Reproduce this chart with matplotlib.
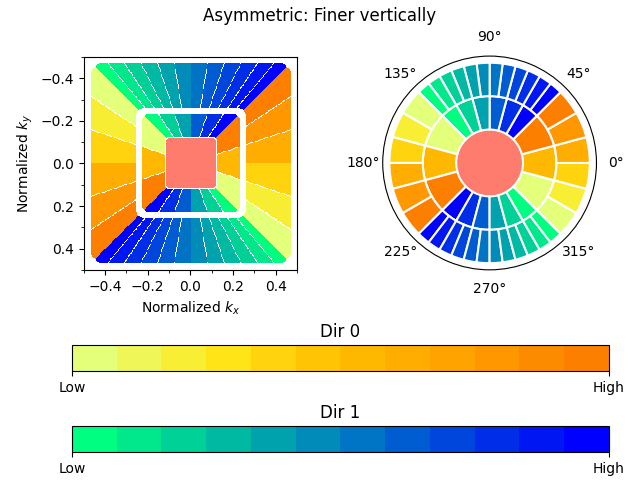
import numpy as np
import matplotlib
matplotlib.use("Agg")
import matplotlib.pyplot as plt
from matplotlib.ticker import MultipleLocator, AutoMinorLocator
from matplotlib.colors import Normalize
from matplotlib.cm import ScalarMappable

# wedges per side for each scale (coarsest ring first)
wedges_dir0 = [3, 6]    # left / right sides
wedges_dir1 = [6, 12]   # top / bottom sides
n_levels = 12
cbar_labels = ["Low", "High"]

# rounded-square boundaries in normalized wavenumber: (half size, corner radius)
coarse_box = (0.12, 0.025)
ring_boxes = [((0.12, 0.025), (0.23, 0.035)), ((0.26, 0.045), (0.472, 0.07))]

cmap0 = plt.get_cmap("Wistia", n_levels)
cmap1 = plt.get_cmap("winter_r", n_levels)
coarse_color = "#fd7c6e"


def rbox(x, y, a, r):
    qx = np.abs(x) - (a - r)
    qy = np.abs(y) - (a - r)
    out = np.hypot(np.maximum(qx, 0), np.maximum(qy, 0))
    return out + np.minimum(np.maximum(qx, qy), 0) - r


def wedge_colors(u, n, cmap, radius):
    f = (u + 1) / 2 * n
    idx = np.clip(np.floor(f), 0, n - 1)
    col = cmap(idx / (n - 1))
    rf = np.round(f)
    dist = np.abs(f - rf) * (2 / n) * radius / np.sqrt(1 + u ** 2)
    line = (rf >= 1) & (rf <= n - 1) & (dist < 0.0018)
    return col, line


N = 260
k = np.linspace(-0.5, 0.5, N)
KX, KY = np.meshgrid(k, k)
img = np.zeros((N, N, 4))

d0 = rbox(KX, KY, *coarse_box)
img[d0 < -0.003] = matplotlib.colors.to_rgba(coarse_color)

vert = np.abs(KY) > np.abs(KX)
with np.errstate(divide="ignore", invalid="ignore"):
    u1 = np.nan_to_num(-KX / KY)
    u0 = np.nan_to_num(-KY / KX)
for s, (inner, outer) in enumerate(ring_boxes):
    di = rbox(KX, KY, *inner)
    do = rbox(KX, KY, *outer)
    ring = (di > (0.003 if s == 0 else 0)) & (do < 0)
    col1, line1 = wedge_colors(u1, wedges_dir1[s], cmap1, np.abs(KY))
    col0, line0 = wedge_colors(u0, wedges_dir0[s], cmap0, np.abs(KX))
    m1 = ring & vert
    m0 = ring & ~vert
    img[m1] = col1[m1]
    img[m0] = col0[m0]
    img[m1 & line1] = (1, 1, 1, 1)
    img[m0 & line0] = (1, 1, 1, 1)

fig = plt.figure(figsize=(6.4, 4.8), dpi=100)
fig.suptitle("Asymmetric: Finer vertically", y=0.985)

ax = fig.add_axes([0.131, 0.4375, 0.333, 0.444])
ax.imshow(img, extent=[-0.5, 0.5, 0.5, -0.5], interpolation="nearest")
ax.set_xlim(-0.5, 0.5)
ax.set_ylim(0.5, -0.5)
for a in (ax.xaxis, ax.yaxis):
    a.set_major_locator(MultipleLocator(0.2))
    a.set_minor_locator(AutoMinorLocator(2))
ax.set_xlabel("Normalized $k_x$")
ax.set_ylabel("Normalized $k_y$")

# polar view of the same tiling
pax = fig.add_axes([0.598, 0.4375, 0.334, 0.446], projection="polar")
pax.bar(0, 1, width=2 * np.pi, bottom=0, color=coarse_color, linewidth=0)
sections = [(-np.pi / 4, 0, False), (np.pi / 4, 1, True),
            (3 * np.pi / 4, 0, False), (5 * np.pi / 4, 1, True)]
for s in range(len(ring_boxes)):
    for start, d, rev in sections:
        n = wedges_dir1[s] if d == 1 else wedges_dir0[s]
        cmap = cmap1 if d == 1 else cmap0
        w = (np.pi / 2) / n
        th = start + w * (np.arange(n) + 0.5)
        vals = np.arange(n) / (n - 1)
        if rev:
            vals = vals[::-1]
        pax.bar(th, 1, width=w, bottom=1 + s, color=cmap(vals),
                edgecolor="white", linewidth=1.5)
pax.set_ylim(0, 3.2)
pax.set_yticklabels([])
pax.grid(False)

for i, (cm, y) in enumerate([(cmap0, 0.227), (cmap1, 0.0583)]):
    cax = fig.add_axes([0.1125, y, 0.839, 0.054])
    cb = fig.colorbar(ScalarMappable(norm=Normalize(0, 1), cmap=cm), cax=cax,
                      orientation="horizontal", ticks=[0, 1])
    cb.set_ticklabels(cbar_labels)
    cax.set_title(f"Dir {i}")

fig.savefig("out.png")
